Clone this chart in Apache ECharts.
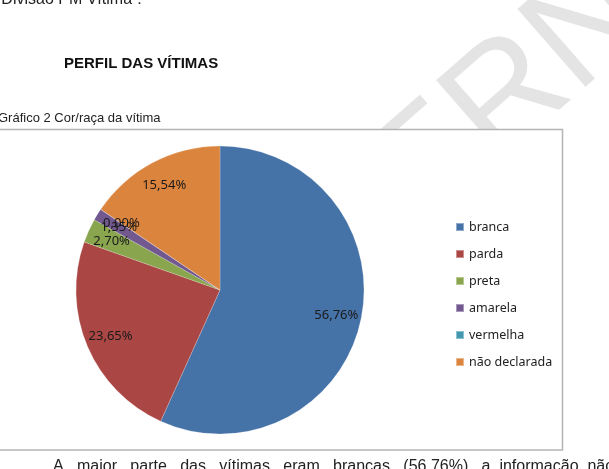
<!DOCTYPE html>
<html>
<head>
<meta charset="utf-8">
<script src="https://cdn.jsdelivr.net/npm/echarts@6/dist/echarts.min.js"></script>
<style>
  html, body { margin: 0; padding: 0; background: #fff; }
  #chart { width: 609px; height: 469px; }
</style>
</head>
<body>
<div id="chart"></div>
<script>
// cor/raça da vítima (%)
var categories = ['branca', 'parda', 'preta', 'amarela', 'vermelha', 'não declarada'];
var values = [56.76, 23.65, 2.70, 1.35, 0.00, 15.54];
var colors = ['#4572A7', '#AA4643', '#89A54E', '#71588F', '#4198AF', '#DB843D'];

var pieData = [];
for (var i = 0; i < categories.length; i++) {
    pieData.push({ name: categories[i], value: values[i], itemStyle: { color: colors[i] } });
}

function fmt(v) {
    return v.toFixed(2).replace('.', ',') + '%';
}

var chart = echarts.init(document.getElementById('chart'));

var option = {
    animation: false,
    title: {
        text: 'Gráfico 2 Cor/raça da vítima',
        left: -2,
        top: 112,
        padding: 0,
        textStyle: { fontFamily: 'Liberation Sans', fontSize: 13, fontWeight: 'normal', color: '#222' }
    },
    graphic: [
        // marca d'agua
        {
            type: 'text', z: 0, x: 430, y: 168, rotation: 0.72,
            style: {
                text: 'GOVERNO', x: 0, y: 0, align: 'center', verticalAlign: 'middle',
                font: '150px "Liberation Sans"', fill: '#e4e4e4'
            }
        },
        {
            type: 'text', z: 5, left: -4, top: -8,
            style: { text: '“Divisão PM Vítima”.', font: '16px "Liberation Sans"', fill: '#222' }
        },
        {
            type: 'text', z: 5, left: 64, top: 56,
            style: { text: 'PERFIL DAS VÍTIMAS', font: 'bold 15px "Liberation Sans"', fill: '#111' }
        },
        {
            type: 'text', z: 5, left: 53, top: 459,
            style: {
                text: 'A   maior   parte   das   vítimas   eram   brancas   (56,76%),  a  informação  não',
                font: '16px "Liberation Sans"', fill: '#222'
            }
        },
        // moldura do grafico
        {
            type: 'rect', z: 1,
            shape: { x: -10, y: 129.5, width: 572.5, height: 320.5 },
            style: { fill: '#fff', stroke: '#b4b4b4', lineWidth: 1.5 }
        }
    ],
    legend: {
        orient: 'vertical',
        left: 450,
        top: 215,
        icon: 'rect',
        itemWidth: 8,
        itemHeight: 8,
        itemGap: 13,
        data: categories,
        textStyle: { fontFamily: 'Noto Sans', fontSize: 12.5, color: '#222', lineHeight: 14 }
    },
    series: [
        {
            type: 'pie',
            center: [220, 290],
            radius: [0, 144],
            startAngle: 90,
            clockwise: true,
            label: { show: false },
            labelLine: { show: false },
            itemStyle: { borderColor: 'rgba(255,255,255,0.4)', borderWidth: 0.5 },
            emphasis: { disabled: true },
            data: pieData
        },
        {
            // anel apenas para posicionar os rotulos
            type: 'pie',
            center: [220, 290],
            radius: [88, 144],
            startAngle: 90,
            clockwise: true,
            minShowLabelAngle: -1,
            silent: true,
            legendHoverLink: false,
            itemStyle: { color: 'rgba(0,0,0,0)' },
            emphasis: { disabled: true },
            labelLayout: { hideOverlap: false },
            label: {
                show: true,
                position: 'inside',
                fontFamily: 'Noto Sans',
                fontSize: 13,
                color: '#1a1a1a',
                formatter: function (p) { return fmt(p.value); }
            },
            labelLine: { show: false },
            data: categories.map(function (c, i) { return { name: c, value: values[i] }; })
        }
    ]
};

chart.setOption(option);
</script>
</body>
</html>
